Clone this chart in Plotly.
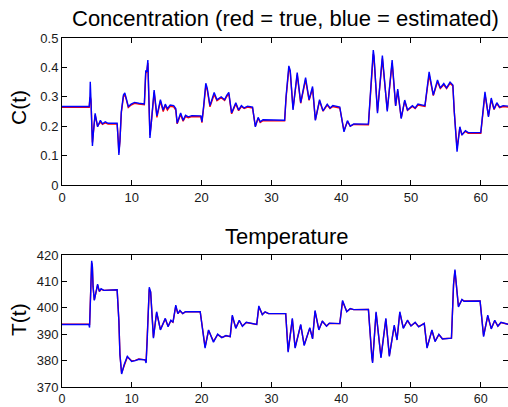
import plotly.graph_objects as go

# ---------------- data ----------------
t_c = [0, 3.9, 4.0, 4.05, 4.15, 4.36, 4.5, 4.75, 5.1, 5.5, 5.8, 6.2, 6.6, 7.9,
       8.05, 8.15, 8.3, 8.5, 8.8, 9.0, 9.2, 9.5, 9.9, 10.4, 11.0, 11.8,
       12.0, 12.15, 12.3, 12.45, 12.6, 12.75, 13.2, 13.6, 14.1, 14.5, 14.8, 15.1,
       15.5, 16.0, 16.3, 16.5, 17.0, 17.35, 17.7, 18.1, 18.6, 19.9,
       20.05, 20.3, 20.6, 20.8, 21.2, 21.8, 22.2, 22.8, 23.3, 23.6, 23.9, 24.3,
       24.9, 25.3, 25.7, 26.1, 26.6, 27.3, 27.7, 28.1, 28.4, 28.8, 31.9,
       32.1, 32.5, 32.7, 33.1, 33.7, 34.2, 34.9, 35.4, 35.9, 36.3, 36.9, 37.4,
       38.0, 38.4, 38.8, 39.8, 40.4, 40.9, 41.3, 41.8, 43.9,
       44.2, 44.6, 44.7, 45.2, 45.9, 46.6, 47.3, 47.8, 48.1, 48.6, 49.1, 49.5,
       50.2, 50.6, 51.0, 52.0, 52.6, 53.2, 53.8, 54.2, 54.7, 55.1, 55.6, 56.0,
       56.2, 56.6, 57.0, 57.3, 57.8, 58.2, 60.0, 60.6, 61.1, 61.5, 61.9, 62.3,
       62.7, 63.2, 64.0]
c_est = [0.267, 0.267, 0.300, 0.351, 0.290, 0.133, 0.180, 0.244, 0.198, 0.220, 0.208, 0.215, 0.210, 0.210,
         0.150, 0.102, 0.150, 0.250, 0.306, 0.313, 0.295, 0.267, 0.275, 0.281, 0.278, 0.276,
         0.390, 0.385, 0.425, 0.300, 0.160, 0.200, 0.323, 0.235, 0.290, 0.255, 0.275, 0.260,
         0.272, 0.270, 0.260, 0.210, 0.245, 0.220, 0.237, 0.232, 0.236, 0.235,
         0.215, 0.270, 0.346, 0.330, 0.270, 0.315, 0.290, 0.300, 0.290, 0.305, 0.315, 0.245,
         0.280, 0.255, 0.270, 0.262, 0.268, 0.265, 0.198, 0.230, 0.215, 0.222, 0.220,
         0.300, 0.405, 0.390, 0.255, 0.382, 0.280, 0.365, 0.290, 0.335, 0.220, 0.290, 0.252,
         0.275, 0.262, 0.270, 0.265, 0.181, 0.219, 0.200, 0.208, 0.207,
         0.320, 0.459, 0.440, 0.244, 0.440, 0.250, 0.425, 0.269, 0.326, 0.226, 0.289, 0.255,
         0.270, 0.262, 0.275, 0.270, 0.385, 0.306, 0.357, 0.330, 0.345, 0.330, 0.350, 0.340,
         0.250, 0.113, 0.198, 0.170, 0.185, 0.178, 0.178, 0.317, 0.232, 0.296, 0.258, 0.280,
         0.265, 0.270, 0.268]
c_true = [0.264, 0.264, 0.295, 0.300, 0.290, 0.145, 0.180, 0.238, 0.200, 0.215, 0.206, 0.211, 0.207, 0.207,
          0.155, 0.110, 0.150, 0.245, 0.300, 0.307, 0.292, 0.264, 0.272, 0.278, 0.275, 0.273,
          0.380, 0.385, 0.415, 0.300, 0.170, 0.200, 0.315, 0.230, 0.285, 0.250, 0.270, 0.255,
          0.268, 0.266, 0.255, 0.208, 0.240, 0.217, 0.233, 0.229, 0.233, 0.232,
          0.212, 0.265, 0.335, 0.325, 0.266, 0.308, 0.287, 0.297, 0.288, 0.301, 0.310, 0.242,
          0.276, 0.253, 0.267, 0.260, 0.265, 0.262, 0.200, 0.227, 0.213, 0.219, 0.218,
          0.295, 0.395, 0.385, 0.260, 0.375, 0.278, 0.358, 0.288, 0.328, 0.222, 0.286, 0.251,
          0.272, 0.260, 0.267, 0.262, 0.185, 0.216, 0.200, 0.206, 0.205,
          0.315, 0.445, 0.435, 0.250, 0.430, 0.255, 0.415, 0.270, 0.320, 0.228, 0.285, 0.254,
          0.267, 0.260, 0.272, 0.267, 0.375, 0.304, 0.351, 0.328, 0.341, 0.328, 0.346, 0.337,
          0.250, 0.125, 0.195, 0.172, 0.182, 0.176, 0.176, 0.308, 0.235, 0.290, 0.257, 0.277,
          0.263, 0.267, 0.265]

t_T = [0, 3.85, 3.95, 4.1, 4.25, 4.35, 4.45, 4.63, 5.1, 5.35, 5.6, 6.0, 7.9,
       8.15, 8.3, 8.54, 8.9, 9.36, 9.98, 10.5, 11.0, 11.9, 12.05, 12.2, 12.4, 12.5, 12.7,
       13.1, 13.56, 14.1, 14.8, 15.2, 15.6, 15.9, 16.3, 16.6, 16.9, 17.3, 17.7, 19.8,
       20.5, 21.0, 21.7, 22.3, 22.9, 23.5, 24.1, 24.4, 24.9, 25.4, 25.85, 26.4, 27.9,
       28.2, 28.7, 29.1, 29.6, 32.05, 32.4, 33.0, 33.4, 34.2, 34.7, 35.5, 35.9, 36.25,
       36.8, 37.3, 37.9, 38.3, 39.8, 40.2, 40.8, 41.3, 41.8, 43.9, 44.4, 44.5, 45.0,
       45.7, 46.4, 46.9, 47.6, 48.0, 48.4, 48.9, 49.5, 50.0, 50.6, 51.1, 51.9, 52.3,
       53.0, 53.45, 54.0, 54.5, 55.8, 56.1, 56.3, 56.8, 57.3, 57.6, 59.9, 60.4, 61.0,
       61.5, 62.0, 62.45, 62.9, 64.0]
T_est = [393.7, 393.7, 392.5, 404.7, 417.8, 415.9, 408.0, 402.8, 409.0, 406.2, 407.2, 406.6, 406.8,
         395.0, 382.2, 374.9, 378.4, 381.6, 379.7, 380.0, 380.5, 380.3, 379.1, 387.2, 401.0, 407.8, 406.0,
         388.5, 398.5, 391.6, 396.0, 392.8, 395.3, 394.5, 401.0, 397.8, 399.0, 397.8, 398.5, 398.5,
         384.7, 391.6, 387.0, 390.0, 388.7, 389.5, 389.1, 397.2, 392.2, 395.3, 393.0, 394.5, 393.7,
         400.7, 397.4, 398.5, 397.8, 397.8, 383.2, 396.0, 384.7, 393.7, 385.7, 392.5, 388.2, 399.0,
         391.6, 395.0, 393.0, 394.2, 394.0, 402.8, 398.5, 399.7, 399.3, 399.4, 381.0, 379.1, 398.5,
         381.0, 396.0, 381.6, 393.4, 387.8, 398.5, 392.2, 395.3, 393.1, 394.5, 392.8, 394.1, 384.7,
         391.6, 387.2, 390.0, 388.2, 388.5, 409.1, 414.5, 400.3, 403.2, 402.5, 402.6, 389.1, 397.2,
         392.0, 395.3, 393.0, 394.5, 393.7]
T_true = [393.8, 393.8, 393.5, 404.7, 417.0, 415.5, 408.0, 403.0, 408.6, 406.2, 407.0, 406.6, 406.8,
          395.0, 382.5, 375.3, 378.4, 381.4, 379.9, 380.1, 380.6, 380.3, 379.5, 387.2, 401.5, 407.0, 406.0,
          388.9, 398.2, 391.8, 395.8, 393.0, 395.1, 394.5, 400.6, 397.8, 398.8, 397.8, 398.5, 398.5,
          385.2, 391.4, 387.3, 389.8, 388.8, 389.4, 389.1, 396.8, 392.4, 395.1, 393.1, 394.4, 393.7,
          400.3, 397.5, 398.4, 397.8, 397.8, 383.6, 395.6, 385.0, 393.4, 386.0, 392.2, 388.4, 398.6,
          391.8, 394.8, 393.1, 394.1, 394.0, 402.4, 398.6, 399.6, 399.3, 399.4, 381.4, 379.6, 398.1,
          381.4, 395.6, 382.0, 393.0, 388.0, 398.2, 392.4, 395.1, 393.2, 394.4, 392.9, 394.1, 385.0,
          391.4, 387.4, 389.8, 388.3, 388.5, 408.6, 414.0, 400.6, 403.0, 402.6, 402.6, 389.5, 396.8,
          392.2, 395.1, 393.1, 394.4, 393.7]

x_ticks = [0, 10, 20, 30, 40, 50, 60]
c_ticks = [0, 0.1, 0.2, 0.3, 0.4, 0.5]
c_ticklabels = ["0", "0.1", "0.2", "0.3", "0.4", "0.5"]
T_ticks = [370, 380, 390, 400, 410, 420]

title_top = "Concentration (red = true, blue = estimated)"
title_bottom = "Temperature"
ylabel_top = "C(t)"
ylabel_bottom = "T(t)"

# ---------------- figure ----------------
W, H = 508, 407
FONT = "Liberation Sans, Arial, Helvetica, sans-serif"

fig = go.Figure()
fig.add_trace(go.Scatter(x=t_c, y=c_true, mode="lines", line=dict(color="#ff0000", width=1.4),
                         xaxis="x", yaxis="y", showlegend=False))
fig.add_trace(go.Scatter(x=t_c, y=c_est, mode="lines", line=dict(color="#0000ff", width=1.4),
                         xaxis="x", yaxis="y", showlegend=False))
fig.add_trace(go.Scatter(x=t_T, y=T_true, mode="lines", line=dict(color="#ff0000", width=1.4),
                         xaxis="x2", yaxis="y2", showlegend=False))
fig.add_trace(go.Scatter(x=t_T, y=T_est, mode="lines", line=dict(color="#0000ff", width=1.4),
                         xaxis="x2", yaxis="y2", showlegend=False))

xdom = [62 / W, 1.0]
ydom_top = [1 - 185 / H, 1 - 38 / H]
ydom_bot = [1 - 387 / H, 1 - 255 / H]

axis_common = dict(showline=True, linecolor="black", linewidth=1, mirror="ticks",
                   ticks="inside", ticklen=5, tickcolor="black", tickwidth=1,
                   showgrid=False, zeroline=False, automargin=False)
tick_font = dict(family=FONT, size=13, color="#1a1a1a")
tick_font_small = dict(family=FONT, size=12.5, color="#1a1a1a")

fig.update_layout(
    width=W, height=H,
    margin=dict(l=0, r=0, t=0, b=0),
    paper_bgcolor="white", plot_bgcolor="white",
    xaxis=dict(domain=xdom, anchor="y", range=[0, 63.9], tickvals=x_ticks,
               tickfont=tick_font, **axis_common),
    yaxis=dict(domain=ydom_top, anchor="x", range=[0, 0.5], tickvals=c_ticks,
               ticktext=c_ticklabels, tickfont=tick_font, **axis_common),
    xaxis2=dict(domain=xdom, anchor="y2", range=[0, 63.9], tickvals=x_ticks,
                tickfont=tick_font_small, **axis_common),
    yaxis2=dict(domain=ydom_bot, anchor="x2", range=[370, 420], tickvals=T_ticks,
                tickfont=tick_font, **axis_common),
    annotations=[
        dict(text=title_top, x=285 / W, y=1 - 18 / H, xref="paper", yref="paper",
             xanchor="center", yanchor="middle", showarrow=False,
             font=dict(family=FONT, size=22, color="black")),
        dict(text=title_bottom, x=287 / W, y=1 - 236 / H, xref="paper", yref="paper",
             xanchor="center", yanchor="middle", showarrow=False,
             font=dict(family=FONT, size=22, color="black")),
        dict(text=ylabel_top, x=19 / W, y=1 - 108 / H, xref="paper", yref="paper",
             xanchor="center", yanchor="middle", showarrow=False, textangle=-90,
             font=dict(family=FONT, size=21, color="black")),
        dict(text=ylabel_bottom, x=18 / W, y=1 - 320 / H, xref="paper", yref="paper",
             xanchor="center", yanchor="middle", showarrow=False, textangle=-90,
             font=dict(family=FONT, size=21, color="black")),
    ],
)

fig.write_html("out.html")
